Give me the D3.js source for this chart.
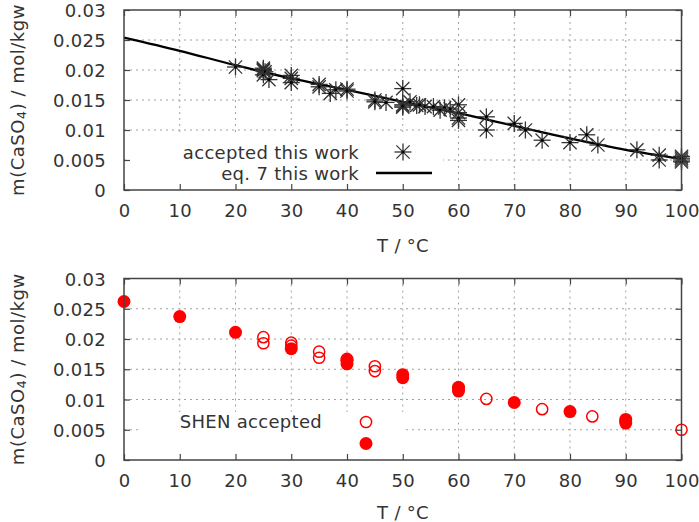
<!DOCTYPE html>
<html><head><meta charset="utf-8">
<script src="https://cdn.jsdelivr.net/npm/d3@7"></script>
<style>
html,body{margin:0;padding:0;background:#fff;}
svg text{font-family:"DejaVu Sans",sans-serif;fill:#333;}
</style></head>
<body>
<svg id="chart" width="699" height="522"></svg>
<script>
// ---- data ----
const xTicks = [0,10,20,30,40,50,60,70,80,90,100];
const yTicks = [0,0.005,0.01,0.015,0.02,0.025,0.03];
const yTickLabels = ["0","0.005","0.01","0.015","0.02","0.025","0.03"];

// top panel: accepted this work (T, m)
const acceptedT = [20,25,25,25,25.3,25,26,30,30,30,35,35,37,38,40,40,45,45,47,50,50,50,50,51.3,52.5,53,54,55.5,56.7,57.5,58.5,60,60,60,60,65,65,70,72,75,80,83,85,92,96,96,100,100,100,100];
const acceptedM = [0.0205,0.0203,0.0201,0.0199,0.0197,0.0192,0.0184,0.0191,0.0186,0.0179,0.0176,0.0172,0.0161,0.0167,0.0168,0.0165,0.0150,0.0147,0.0146,0.0169,0.0142,0.0138,0.0140,0.0147,0.0141,0.0142,0.0139,0.0139,0.0133,0.0137,0.0135,0.0142,0.0129,0.0116,0.0120,0.0122,0.0100,0.0111,0.0100,0.0083,0.0079,0.0092,0.0075,0.0067,0.0058,0.0050,0.0056,0.0050,0.0053,0.0047];

// top panel: eq. 7 this work
const eqT = [0,10,20,30,40,50,60,70,80,90,100];
const eqM = [0.0254,0.0232,0.0208,0.0186,0.0167,0.0147,0.0128,0.0107,0.0086,0.0067,0.0052];

// bottom panel: filled circles
const filledT = [0,10,20,30,40,40,50,50,60,60,70,80,90,90];
const filledM = [0.0262,0.0237,0.0211,0.0184,0.0165,0.0159,0.0141,0.0136,0.0120,0.0114,0.0095,0.0080,0.0067,0.0061];

// bottom panel: SHEN accepted (open circles)
const shenT = [25,25,30,30,35,35,40,40,45,45,60,65,75,84,90,100];
const shenM = [0.0203,0.0193,0.0194,0.0189,0.0179,0.0169,0.0167,0.0164,0.0155,0.0147,0.0120,0.0101,0.0084,0.0072,0.0064,0.0050];

const legendTop = ["accepted this work","eq. 7 this work"];
const legendBottom = ["SHEN accepted",""];
const xTitle = "T / °C";

// ---- drawing ----
const svg = d3.select("#chart");
const FS = 18;
const TXT = "#3a3a3a";
const x = d3.scaleLinear().domain([0,100]).range([124,681.5]);

function panel(yTop, yBot){
  const y = d3.scaleLinear().domain([0,0.03]).range([yBot,yTop]);
  const g = svg.append("g");
  const grid = g.append("g").attr("stroke","#a0a0a0").attr("stroke-width",1).attr("stroke-dasharray","2,4");
  xTicks.slice(1,-1).forEach(t=>grid.append("line").attr("x1",x(t)).attr("x2",x(t)).attr("y1",yTop).attr("y2",yBot));
  yTicks.slice(1,-1).forEach(t=>grid.append("line").attr("x1",x(0)).attr("x2",x(100)).attr("y1",y(t)).attr("y2",y(t)));
  return {y,g};
}

function frame(p, yTop, yBot, titleY){
  const {y,g} = p;
  const b = g.append("g");
  const ax = b.append("g").attr("transform",`translate(0,${yBot})`)
    .call(d3.axisBottom(x).tickValues(xTicks).tickSize(-6).tickPadding(14).tickFormat(d3.format("d")));
  const axt = b.append("g").attr("transform",`translate(0,${yTop})`)
    .call(d3.axisTop(x).tickValues(xTicks).tickSize(-6).tickFormat(""));
  const ay = b.append("g").attr("transform",`translate(${x(0)},0)`)
    .call(d3.axisLeft(y).tickValues(yTicks).tickSize(-6).tickPadding(18).tickFormat((d,i)=>yTickLabels[i]));
  const ayr = b.append("g").attr("transform",`translate(${x(100)},0)`)
    .call(d3.axisRight(y).tickValues(yTicks).tickSize(-6).tickFormat(""));
  [ax,axt,ay,ayr].forEach(a=>{
    a.select(".domain").remove();
    a.selectAll(".tick line").attr("stroke","#444").attr("stroke-width",1.2);
    a.selectAll("text").attr("font-size",FS).attr("fill",TXT).attr("font-family","DejaVu Sans").style("letter-spacing","0.3px");
  });
  ax.selectAll("text").attr("dy",null).attr("y",20).attr("dominant-baseline","central");
  ay.selectAll("text").attr("dy",null).attr("dominant-baseline","central");
  b.append("rect").attr("x",x(0)).attr("y",yTop).attr("width",x(100)-x(0)).attr("height",yBot-yTop)
    .attr("fill","none").attr("stroke","#444").attr("stroke-width",1.5);
  svg.append("text").attr("x",403).attr("y",titleY).attr("text-anchor","middle").attr("dominant-baseline","central")
    .attr("font-size",FS).attr("fill",TXT).style("letter-spacing","0.3px").text(xTitle);
  const cy = (yTop+yBot)/2;
  const yl = svg.append("text").attr("transform",`translate(17,${cy}) rotate(-90)`).attr("text-anchor","middle")
    .attr("dominant-baseline","central").attr("font-size",FS).attr("fill",TXT).style("letter-spacing","0.5px");
  yl.append("tspan").text("m(CaSO");
  yl.append("tspan").attr("font-size",13).attr("dy",4).text("4");
  yl.append("tspan").attr("dy",-4).text(") / mol/kgw");
}

function star(g, cx, cy, r){
  const s = g.append("g").attr("stroke","#333").attr("stroke-width",1.3);
  const d = r*0.78;
  s.append("line").attr("x1",cx-r).attr("x2",cx+r).attr("y1",cy).attr("y2",cy);
  s.append("line").attr("x1",cx).attr("x2",cx).attr("y1",cy-r).attr("y2",cy+r);
  s.append("line").attr("x1",cx-d).attr("x2",cx+d).attr("y1",cy-d).attr("y2",cy+d);
  s.append("line").attr("x1",cx-d).attr("x2",cx+d).attr("y1",cy+d).attr("y2",cy-d);
  g.append("circle").attr("cx",cx).attr("cy",cy).attr("r",1.5).attr("fill","#000");
}

// ---- top panel ----
const T1=10, B1=190;
const p1 = panel(T1,B1);
p1.g.append("rect").attr("x",126).attr("y",136).attr("width",317).attr("height",50).attr("fill","#fff");
const lineGen = d3.line().x((d,i)=>x(eqT[i])).y((d,i)=>p1.y(eqM[i])).curve(d3.curveMonotoneX);
p1.g.append("path").datum(eqT).attr("d",lineGen).attr("fill","none").attr("stroke","#000").attr("stroke-width",2.3);
acceptedT.forEach((t,i)=>star(p1.g, x(t), p1.y(acceptedM[i]), 8.5));
frame(p1,T1,B1,245);
svg.append("text").attr("x",359).attr("y",152).attr("text-anchor","end").attr("dominant-baseline","central")
  .attr("font-size",FS).attr("fill",TXT).style("letter-spacing","0.3px").text(legendTop[0]);
svg.append("text").attr("x",359).attr("y",173).attr("text-anchor","end").attr("dominant-baseline","central")
  .attr("font-size",FS).attr("fill",TXT).style("letter-spacing","0.3px").text(legendTop[1]);
star(svg, 403, 152, 8.5);
svg.append("line").attr("x1",376).attr("x2",432).attr("y1",173).attr("y2",173).attr("stroke","#000").attr("stroke-width",2.3);

// ---- bottom panel ----
const T2=278.5, B2=460;
const p2 = panel(T2,B2);
p2.g.append("rect").attr("x",141).attr("y",412).attr("width",265).attr("height",47).attr("fill","#fff");
filledT.forEach((t,i)=>p2.g.append("circle").attr("cx",x(t)).attr("cy",p2.y(filledM[i])).attr("r",6.5).attr("fill","#f00"));
shenT.forEach((t,i)=>p2.g.append("circle").attr("cx",x(t)).attr("cy",p2.y(shenM[i])).attr("r",5.6).attr("fill","none").attr("stroke","#f00").attr("stroke-width",1.5));
frame(p2,T2,B2,512);
svg.append("text").attr("x",322).attr("y",421.5).attr("text-anchor","end").attr("dominant-baseline","central")
  .attr("font-size",FS).attr("fill",TXT).style("letter-spacing","0.3px").text(legendBottom[0]);
svg.append("circle").attr("cx",366).attr("cy",422).attr("r",5.6).attr("fill","none").attr("stroke","#f00").attr("stroke-width",1.5);
svg.append("circle").attr("cx",366).attr("cy",443.5).attr("r",6.5).attr("fill","#f00");
</script>
</body></html>
